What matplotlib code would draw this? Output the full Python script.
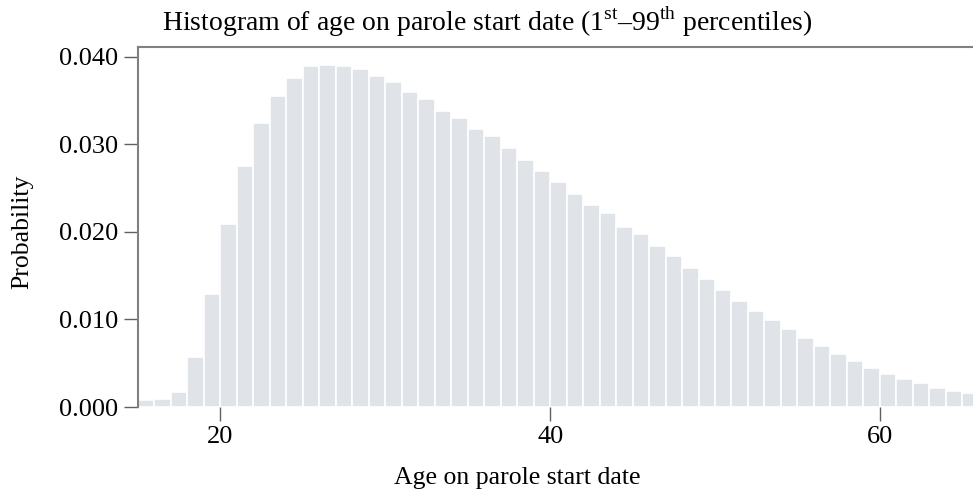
import matplotlib
matplotlib.use('Agg')
import matplotlib.pyplot as plt
import numpy as np

plt.rcParams['font.family'] = 'Liberation Serif'
plt.rcParams['mathtext.fontset'] = 'custom'
plt.rcParams['mathtext.rm'] = 'Liberation Serif'

# bin left edges (age, 1-year bins) and probability per bin
ages = list(range(15, 66))
probs = [0.0008, 0.00095, 0.0017, 0.0057, 0.0129, 0.0209, 0.0275, 0.0324, 0.0355, 0.0376,
         0.0389, 0.0391, 0.0389, 0.0386, 0.0378, 0.0371, 0.0360, 0.0352, 0.0338, 0.0330,
         0.0317, 0.0309, 0.0296, 0.0282, 0.0270, 0.0257, 0.0243, 0.0231, 0.0221, 0.0206,
         0.0197, 0.0184, 0.0172, 0.0159, 0.0146, 0.0134, 0.0121, 0.0110, 0.0099, 0.0089,
         0.0079, 0.0070, 0.0061, 0.0052, 0.0044, 0.0038, 0.0032, 0.0027, 0.0022, 0.0018,
         0.0016]
xticks = [20, 40, 60]
yticks = [0.0, 0.01, 0.02, 0.03, 0.04]

fig = plt.figure(figsize=(9.73, 4.97), dpi=100)
ax = fig.add_axes([138/973, 1 - 407/497, 1 - 138/973, 360/497])

ax.bar(ages, probs, width=1.0, align='edge', color='#e0e4e8', edgecolor='white', linewidth=1.2)

ax.set_xlim(15, 65.65)
ax.set_ylim(0, 0.0411)
ax.set_xticks(xticks)
ax.set_yticks(yticks)
ax.set_yticklabels(['%.3f' % v for v in yticks])

for s in ['right', 'bottom']:
    ax.spines[s].set_visible(False)
for s in ['left', 'top']:
    ax.spines[s].set_color('#808080')
    ax.spines[s].set_linewidth(1.5)

ax.tick_params(axis='both', direction='out', length=10, width=1, color='#606060',
               labelsize=19, labelcolor='black', pad=4)

fig.text(22/973, 1 - 232/497, 'Probability', rotation=90, ha='center', va='center', fontsize=18.5)
fig.text(517/973, 1 - 478/497, 'Age on parole start date', ha='center', va='center', fontsize=18.5)
fig.text(487/973, 1 - 22/497,
         r'Histogram of age on parole start date (1$^{\mathrm{st}}$–99$^{\mathrm{th}}$ percentiles)',
         ha='center', va='center', fontsize=20)

fig.savefig('out.png', dpi=100)
